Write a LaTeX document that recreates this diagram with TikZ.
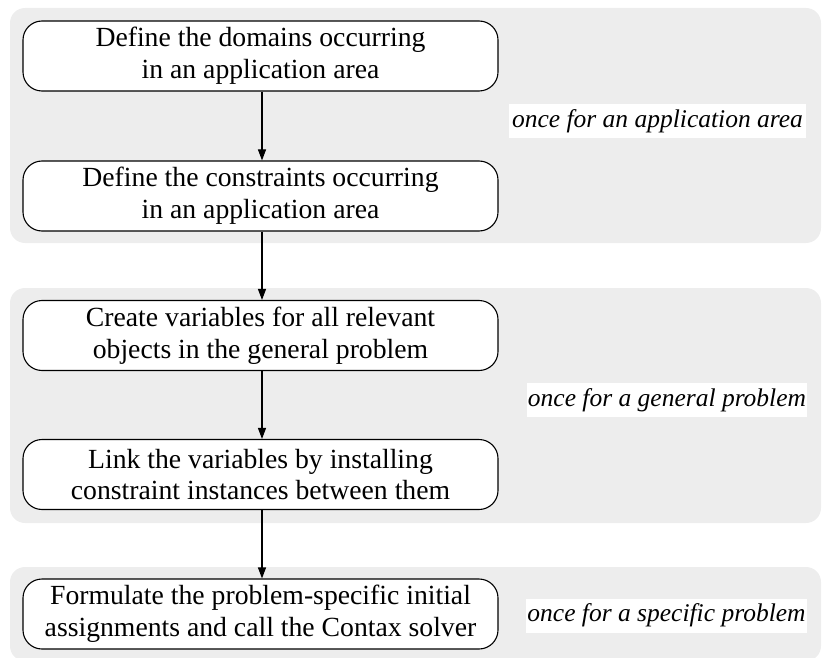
\documentclass[tikz,border=0pt]{standalone}
\usepackage{fontspec}
\setmainfont{Liberation Serif}
\usetikzlibrary{arrows.meta}
\definecolor{panelgray}{RGB}{237,237,237}
\tikzset{
  panel/.style={fill=panelgray, draw=none, rounded corners=15pt},
  stepbox/.style={draw=black, line width=1.1pt, fill=white, rounded corners=19pt,
    minimum width=475pt, minimum height=70pt, inner sep=0pt, align=center,
    font=\fontsize{27.7}{31.7}\selectfont},
  scopelabel/.style={fill=white, inner sep=0pt, minimum height=34pt,
    font=\fontsize{25.5}{29}\selectfont\itshape},
  flow/.style={draw=black, line width=1.1pt, -{Triangle[length=11pt,width=8pt]}}
}
\begin{document}
\begin{tikzpicture}[x=1pt,y=-1pt]
  \useasboundingbox (0,0) rectangle (822,658);
  \clip (0,0) rectangle (822,658);

  % grey bands grouping the steps
  \fill[panel] (10,8) rectangle (821,243);
  \fill[panel] (10,288) rectangle (821,523);
  \fill[panel] (10,567) rectangle (821,661);

  % process steps
  \node[stepbox] (domains) at (260.5,56)
    {Define the domains occurring\\in an application area};
  \node[stepbox] (constraints) at (260.5,196)
    {Define the constraints occurring\\in an application area};
  \node[stepbox] (variables) at (260.5,335.5)
    {Create variables for all relevant\\objects in the general problem};
  \node[stepbox] (link) at (260.5,474.5)
    {Link the variables by installing\\constraint instances between them};
  \node[stepbox] (formulate) at (260.5,614)
    {Formulate the problem-specific initial\\assignments and call the Contax solver};

  % how often each band is carried out
  \node[scopelabel, minimum width=297pt] (areaLbl) at (657.5,121)
    {once for an application area};
  \node[scopelabel, minimum width=280pt] (generalLbl) at (667,400)
    {once for a general problem};
  \node[scopelabel, minimum width=281pt] (specificLbl) at (666.5,615.5)
    {once for a specific problem};

  % connectors
  \draw[flow] (domains.south -| 262,0) -- (constraints.north -| 262,0);
  \draw[flow] (constraints.south -| 262,0) -- (variables.north -| 262,0);
  \draw[flow] (variables.south -| 262,0) -- (link.north -| 262,0);
  \draw[flow] (link.south -| 262,0) -- (formulate.north -| 262,0);
\end{tikzpicture}
\end{document}
